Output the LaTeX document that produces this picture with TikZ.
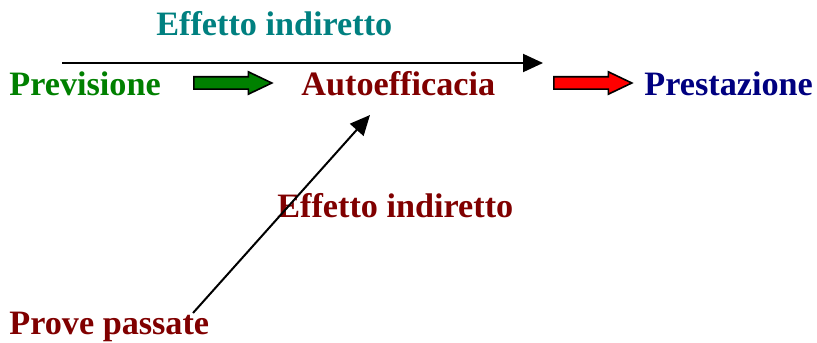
\documentclass[tikz,border=0pt]{standalone}
\usepackage{fontspec}
\setmainfont{Liberation Serif}
\usepackage{xcolor}
\usepackage{tikz}
\usetikzlibrary{arrows.meta,shapes.arrows}
\definecolor{teal}{HTML}{008080}
\definecolor{verde}{HTML}{008000}
\definecolor{bordeaux}{HTML}{800000}
\definecolor{blu}{HTML}{000080}
\tikzset{
  lab/.style={anchor=base west, inner sep=0pt, font=\fontsize{17.1}{20}\selectfont\bfseries},
  conn/.style={draw=black, line width=1pt, -{Triangle[length=10pt,width=9pt]}},
  block/.style={single arrow, draw=black, line width=0.8pt, anchor=tail,
    inner xsep=0pt, inner ysep=2.7pt, minimum width=0pt, minimum height=39pt,
    single arrow head extend=2.5pt, single arrow tip angle=51},
}

\begin{document}
\begin{tikzpicture}[x=0.5pt,y=-0.5pt]
  \useasboundingbox (0,0) rectangle (817,342);
  \node[lab,text=teal] (effsopra) at (156,36) {Effetto indiretto};
  \node[lab,text=verde] (prev) at (9,96) {Previsione};
  \node[lab,text=bordeaux] (auto) at (301,96) {Autoefficacia};
  \node[lab,text=blu] (prest) at (644,96) {Prestazione};
  \node[lab,text=bordeaux] (effsotto) at (277,217) {Effetto indiretto};
  \node[lab,text=bordeaux] (prove) at (9,334) {Prove passate};
  \node[block,fill=verde] (frecciaverde) at (193,83) {};
  \node[block,fill=red] (frecciarossa) at (553,83) {};
  \coordinate (sopraA) at (62,63);
  \coordinate (sopraB) at (543,63);
  \coordinate (provaA) at (193,313);
  \coordinate (provaB) at (370,115);
  \draw[conn] (sopraA) -- (sopraB);
  \draw[conn] (provaA) -- (provaB);
\end{tikzpicture}
\end{document}
